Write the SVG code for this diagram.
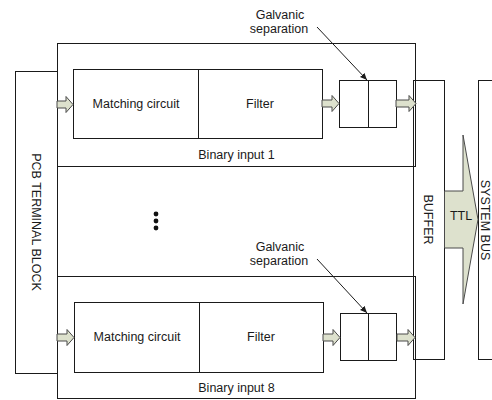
<svg xmlns="http://www.w3.org/2000/svg" width="492" height="400" viewBox="0 0 492 400">
<defs>
<style>
.box{fill:none;stroke:#1a1a1a;stroke-width:1}
.wbox{fill:#ffffff;stroke:#1a1a1a;stroke-width:1}
.blk{fill:#dde1cd;stroke:#4a4a4a;stroke-width:1;stroke-linejoin:miter}
.t{font-family:"Liberation Sans",Arial,sans-serif;font-size:12.5px;fill:#1a1a1a}
.m{text-anchor:middle}
.ptr{stroke:#1a1a1a;stroke-width:1;fill:none}
</style>
<marker id="ah" markerWidth="8" markerHeight="8" refX="7" refY="4" orient="auto" markerUnits="userSpaceOnUse">
<path d="M0,1 L7,4 L0,7 Z" fill="#1a1a1a"/>
</marker>
</defs>
<rect width="492" height="400" fill="#ffffff"/>

<g id="pcb-terminal-block">
<rect class="wbox" x="15.5" y="71.5" width="42" height="302"/>
<text class="t m" transform="translate(32,222) rotate(90)">PCB TERMINAL BLOCK</text>
</g>

<g id="buffer">
<rect class="wbox" x="413.5" y="80.5" width="31" height="279"/>
<text class="t m" transform="translate(424,219.5) rotate(90)">BUFFER</text>
</g>

<g id="system-bus">
<rect class="wbox" x="478.5" y="80.5" width="30" height="279"/>
<text class="t m" transform="translate(480.5,220) rotate(90)">SYSTEM BUS</text>
</g>

<g id="binary-input-1">
<rect class="box" x="57.5" y="43.5" width="358" height="123"/>
<text class="t m" x="236.5" y="159">Binary input 1</text>
</g>

<g id="matching-circuit-1">
<rect class="box" x="73.5" y="69.5" width="125" height="69"/>
<text class="t m" x="136" y="108">Matching circuit</text>
</g>
<g id="filter-1">
<rect class="box" x="198.5" y="69.5" width="124" height="69"/>
<text class="t m" x="260" y="108">Filter</text>
</g>
<g id="galvanic-1">
<rect class="box" x="339.5" y="80.5" width="29" height="47"/>
<rect class="box" x="368.5" y="80.5" width="28" height="47"/>
</g>
<g id="galvanic-label-1">
<text class="t m" x="280" y="18.5">Galvanic</text>
<text class="t m" x="279" y="32.5">separation</text>
</g>

<g id="ellipsis">
<circle cx="156" cy="214" r="2.4" fill="#111"/>
<circle cx="156" cy="221" r="2.4" fill="#111"/>
<circle cx="156" cy="228" r="2.4" fill="#111"/>
</g>

<g id="binary-input-8">
<rect class="box" x="57.5" y="276.5" width="358" height="122"/>
<text class="t m" x="236.5" y="392">Binary input 8</text>
</g>
<g id="matching-circuit-8">
<rect class="box" x="74.5" y="302.5" width="125" height="70"/>
<text class="t m" x="137" y="341">Matching circuit</text>
</g>
<g id="filter-8">
<rect class="box" x="199.5" y="302.5" width="124" height="70"/>
<text class="t m" x="261" y="341">Filter</text>
</g>
<g id="galvanic-8">
<rect class="box" x="340.5" y="313.5" width="28" height="47"/>
<rect class="box" x="368.5" y="313.5" width="28" height="47"/>
</g>
<g id="galvanic-label-8">
<text class="t m" x="280" y="251">Galvanic</text>
<text class="t m" x="279" y="265">separation</text>
</g>

<g id="connectors">
<polygon class="blk" points="57,101 66,101 66,96.5 73,104.5 66,112.5 66,108 57,108"/>
<polygon class="blk" points="322,100 332,100 332,95.5 339,103.5 332,111.5 332,107 322,107"/>
<polygon class="blk" points="396,100 409,100 409,95.5 416,103.5 409,111.5 409,107 396,107"/>
<polygon class="blk" points="57,334 67,334 67,329.5 74,337.5 67,345.5 67,341 57,341"/>
<polygon class="blk" points="323,334 333,334 333,329.5 340,337.5 333,345.5 333,341 323,341"/>
<polygon class="blk" points="397,334 408,334 408,329.5 415,337.5 408,345.5 408,341 397,341"/>
<polygon class="blk" points="444.5,191 463,191 463,135 478,219.5 463,304 463,248 444.5,248"/>
<text class="t m" x="461" y="220">TTL</text>
<line class="ptr" x1="317" y1="27" x2="367" y2="80" marker-end="url(#ah)"/>
<line class="ptr" x1="317" y1="259" x2="367" y2="313" marker-end="url(#ah)"/>
</g>
</svg>
